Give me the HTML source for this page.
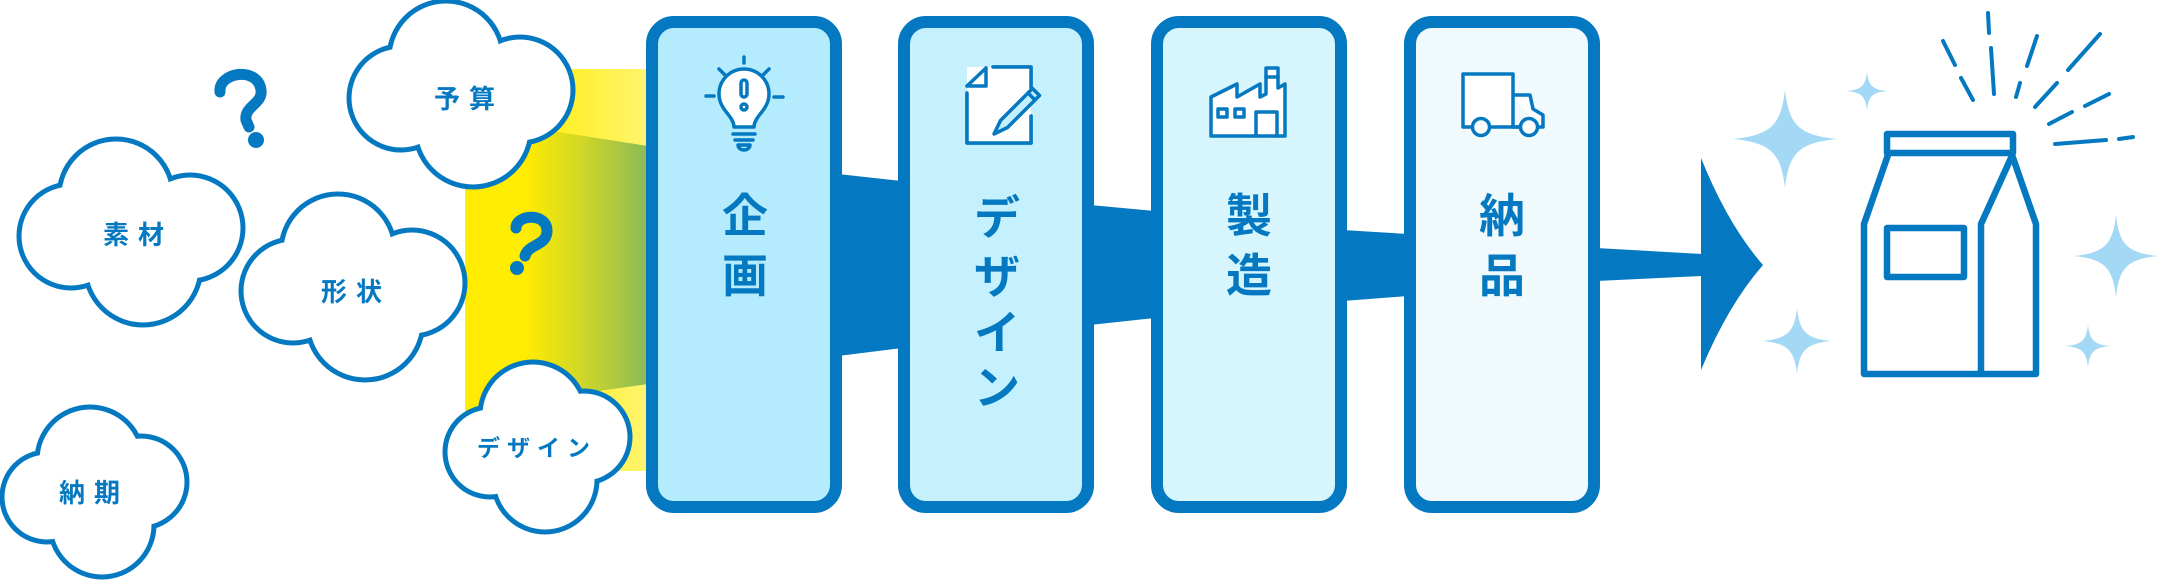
<!DOCTYPE html>
<html><head><meta charset="utf-8"><style>
html,body{margin:0;padding:0;background:#fff;}
svg{display:block}
text{font-family:"Liberation Sans","Noto Sans CJK JP",sans-serif;font-weight:bold;fill:#0479c1;}
</style></head><body>
<svg width="2160" height="580" viewBox="0 0 2160 580" xmlns="http://www.w3.org/2000/svg">
<defs>
<linearGradient id="yg" gradientUnits="userSpaceOnUse" x1="465" y1="0" x2="646" y2="0">
<stop offset="0" stop-color="#ffec00"/><stop offset="0.3" stop-color="#ffed05"/><stop offset="1" stop-color="#fff46e"/></linearGradient>
<linearGradient id="gg" gradientUnits="userSpaceOnUse" x1="525" y1="0" x2="646" y2="0">
<stop offset="0" stop-color="#ffec00"/><stop offset="0.45" stop-color="#d2d826"/><stop offset="1" stop-color="#8dbb57"/></linearGradient>
</defs>

<!-- yellow band -->
<rect x="465" y="69" width="183" height="402" fill="url(#yg)"/>
<polygon points="520,126 648,146 648,384 520,402" fill="url(#gg)"/>

<!-- question marks -->
<g fill="none" stroke="#0479c1" stroke-linecap="round" stroke-width="11">
<path d="M220,92 C218,72 258,66 261,90 C263,104 244,106 246,120 L249,127"/>
<path d="M516,228 C516,214 548,212 547,232 C546,246 528,244 525,256"/>
</g>
<circle cx="256" cy="140" r="8" fill="#0479c1"/>
<circle cx="517" cy="268" r="7" fill="#0479c1"/>

<!-- clouds -->
<g stroke="#0479c1" stroke-width="10" fill="#fff">
 <g transform="translate(349,1)"><circle cx="97" cy="57" r="54.5"/><circle cx="52" cy="97" r="49.5"/><circle cx="171" cy="89" r="50.5"/><circle cx="124" cy="128" r="55.5"/></g>
</g>
<g fill="#fff"><g transform="translate(349,1)"><circle cx="97" cy="57" r="54.5"/><circle cx="52" cy="97" r="49.5"/><circle cx="171" cy="89" r="50.5"/><circle cx="124" cy="128" r="55.5"/></g></g>

<g stroke="#0479c1" stroke-width="10" fill="#fff">
 <g transform="translate(19,139)"><circle cx="97" cy="57" r="54.5"/><circle cx="52" cy="97" r="49.5"/><circle cx="171" cy="89" r="50.5"/><circle cx="124" cy="128" r="55.5"/></g>
</g>
<g fill="#fff"><g transform="translate(19,139)"><circle cx="97" cy="57" r="54.5"/><circle cx="52" cy="97" r="49.5"/><circle cx="171" cy="89" r="50.5"/><circle cx="124" cy="128" r="55.5"/></g></g>

<g stroke="#0479c1" stroke-width="10" fill="#fff">
 <g transform="translate(241,194)"><circle cx="97" cy="57" r="54.5"/><circle cx="52" cy="97" r="49.5"/><circle cx="171" cy="89" r="50.5"/><circle cx="124" cy="128" r="55.5"/></g>
</g>
<g fill="#fff"><g transform="translate(241,194)"><circle cx="97" cy="57" r="54.5"/><circle cx="52" cy="97" r="49.5"/><circle cx="171" cy="89" r="50.5"/><circle cx="124" cy="128" r="55.5"/></g></g>

<g stroke="#0479c1" stroke-width="10" fill="#fff">
 <g transform="translate(445,362)"><circle cx="88" cy="53" r="50.5"/><circle cx="45" cy="90" r="42.5"/><circle cx="139" cy="75" r="43.5"/><circle cx="100" cy="118" r="49.5"/></g>
</g>
<g fill="#fff"><g transform="translate(445,362)"><circle cx="88" cy="53" r="50.5"/><circle cx="45" cy="90" r="42.5"/><circle cx="139" cy="75" r="43.5"/><circle cx="100" cy="118" r="49.5"/></g></g>

<g stroke="#0479c1" stroke-width="10" fill="#fff">
 <g transform="translate(2,407)"><circle cx="88" cy="53" r="50.5"/><circle cx="45" cy="90" r="42.5"/><circle cx="139" cy="75" r="43.5"/><circle cx="100" cy="118" r="49.5"/></g>
</g>
<g fill="#fff"><g transform="translate(2,407)"><circle cx="88" cy="53" r="50.5"/><circle cx="45" cy="90" r="42.5"/><circle cx="139" cy="75" r="43.5"/><circle cx="100" cy="118" r="49.5"/></g></g>

<g font-size="26" text-anchor="middle" dominant-baseline="central" letter-spacing="9">
<text x="469" y="99">予算</text>
<text x="138" y="235">素材</text>
<text x="356" y="292">形状</text>
<text x="94" y="493">納期</text>
<text x="537" y="448" font-size="23" letter-spacing="7">デザイン</text>
</g>

<!-- connectors -->
<g fill="#0479c1">
<polygon points="838,174 902,181 902,348 838,356"/>
<polygon points="1090,205 1155,211 1155,318 1090,325"/>
<polygon points="1343,230 1408,234 1408,296 1343,301"/>
<polygon points="1596,248 1702,254 1702,276 1596,281"/>
<path d="M1701,158 Q1728,225 1763,265 Q1728,305 1701,370 Z"/>
</g>

<!-- cards -->
<g stroke="#0479c1" stroke-width="12">
<rect x="652" y="22" width="184" height="485" rx="22" fill="#b5ecfd"/>
<rect x="904" y="22" width="184" height="485" rx="22" fill="#c4f1fd"/>
<rect x="1157" y="22" width="184" height="485" rx="22" fill="#d6f5fd"/>
<rect x="1410" y="22" width="184" height="485" rx="22" fill="#f0fafd"/>
</g>

<!-- icons -->
<g fill="none" stroke="#0479c1" stroke-width="3.5" stroke-linecap="round" stroke-linejoin="round">
 <!-- bulb -->
 <path d="M744,57 V63 M719,69 L726,76 M769,69 L762,76 M706,96 H714 M774,97 H783"/>
 <path d="M734,127 C734,116 719,110 719,94 A25,25 0 1 1 769,94 C769,110 754,116 754,127 Z" fill="#fff"/>
 <path d="M733,134 H755 M735,140 H753 M738,145 A6,5 0 0 0 750,145 Z"/>
 <rect x="741" y="80" width="6" height="17" rx="3"/>
 <circle cx="744" cy="107" r="3"/>
 <!-- document -->
 <path d="M967,86 L986,68 V86 Z" fill="#fff"/>
 <path d="M993,67 H1031 V88 M1031,116 V143 H967 V93" fill="#fff"/>
 <rect x="967" y="67" width="64" height="76" fill="#fff" stroke="none"/>
 <path d="M993,67 H1031 V88 M1031,116 V143 H967 V93"/>
 <path d="M967,86 L986,68 V86 Z"/>
 <path d="M1032.5,88.5 L1039.5,95.5 L1007.5,127.5 L994,134 L1000.5,120.5 Z" fill="#c4f1fd"/>
 <path d="M1028,93 L1035,100"/>
 <!-- factory -->
 <path d="M1211,136 V97 L1237,84 V97 L1260,84 V97 L1266,94 V68 H1278 V88 L1285,84 V136 Z" fill="#fff"/>
 <path d="M1266,77 H1278"/>
 <rect x="1218" y="109" width="9" height="8"/>
 <rect x="1235" y="109" width="9" height="8"/>
 <path d="M1256,136 V112 H1277 V136"/>
 <!-- truck -->
 <path d="M1472,127 H1463 V74 H1513 V127 H1520 M1513,95 H1530 L1533,109 L1543,115 V127 H1538" fill="#fff"/>
 <path d="M1490,127 H1520"/>
 <circle cx="1481" cy="127" r="8.5" fill="#fff"/>
 <circle cx="1529" cy="127" r="8.5" fill="#fff"/>
</g>

<g font-size="46" text-anchor="middle" dominant-baseline="central">
<text x="745" y="216">企</text><text x="745" y="276">画</text>
<text x="997" y="218">デ</text><text x="997" y="277">ザ</text><text x="997" y="333">イ</text><text x="997" y="388">ン</text>
<text x="1249" y="216">製</text><text x="1249" y="276">造</text>
<text x="1502" y="216">納</text><text x="1502" y="276">品</text>
</g>

<!-- sparkles -->
<g fill="#a3d9f5">
<path transform="translate(1785,139) scale(52,49)" d="M0,-1 C0.08,-0.3 0.25,-0.08 1,0 C0.25,0.08 0.08,0.3 0,1 C-0.08,0.3 -0.25,0.08 -1,0 C-0.25,-0.08 -0.08,-0.3 0,-1 Z"/>
<path transform="translate(1867,91) scale(20,19)" d="M0,-1 C0.08,-0.3 0.25,-0.08 1,0 C0.25,0.08 0.08,0.3 0,1 C-0.08,0.3 -0.25,0.08 -1,0 C-0.25,-0.08 -0.08,-0.3 0,-1 Z"/>
<path transform="translate(1797,341) scale(34,33)" d="M0,-1 C0.08,-0.3 0.25,-0.08 1,0 C0.25,0.08 0.08,0.3 0,1 C-0.08,0.3 -0.25,0.08 -1,0 C-0.25,-0.08 -0.08,-0.3 0,-1 Z"/>
<path transform="translate(2116,256) scale(42,41)" d="M0,-1 C0.08,-0.3 0.25,-0.08 1,0 C0.25,0.08 0.08,0.3 0,1 C-0.08,0.3 -0.25,0.08 -1,0 C-0.25,-0.08 -0.08,-0.3 0,-1 Z"/>
<path transform="translate(2088,346) scale(22,21)" d="M0,-1 C0.08,-0.3 0.25,-0.08 1,0 C0.25,0.08 0.08,0.3 0,1 C-0.08,0.3 -0.25,0.08 -1,0 C-0.25,-0.08 -0.08,-0.3 0,-1 Z"/>
</g>

<!-- bag -->
<g fill="none" stroke="#0479c1" stroke-width="6.5" stroke-linejoin="round" stroke-linecap="round">
<rect x="1887" y="134" width="126" height="19"/>
<path d="M1888,155 L1864,224 V374 H2036 V224 L2012,155"/>
<path d="M2011,158 L1981,224 V374"/>
<rect x="1887" y="228" width="77" height="49"/>
</g>
<!-- rays -->
<g stroke="#0479c1" stroke-width="4" stroke-linecap="round">
<path d="M1943,41 L1955,65 M1961,78 L1973,100"/>
<path d="M1988,13 L1989,33 M1991,48 L1994,94"/>
<path d="M2037,36 L2027,66 M2020,83 L2016,97"/>
<path d="M2100,34 L2068,70 M2057,83 L2035,107"/>
<path d="M2109,94 L2085,106 M2072,112 L2049,124"/>
<path d="M2133,137 L2119,139 M2106,140 L2055,144"/>
</g>
</svg>
</body></html>
